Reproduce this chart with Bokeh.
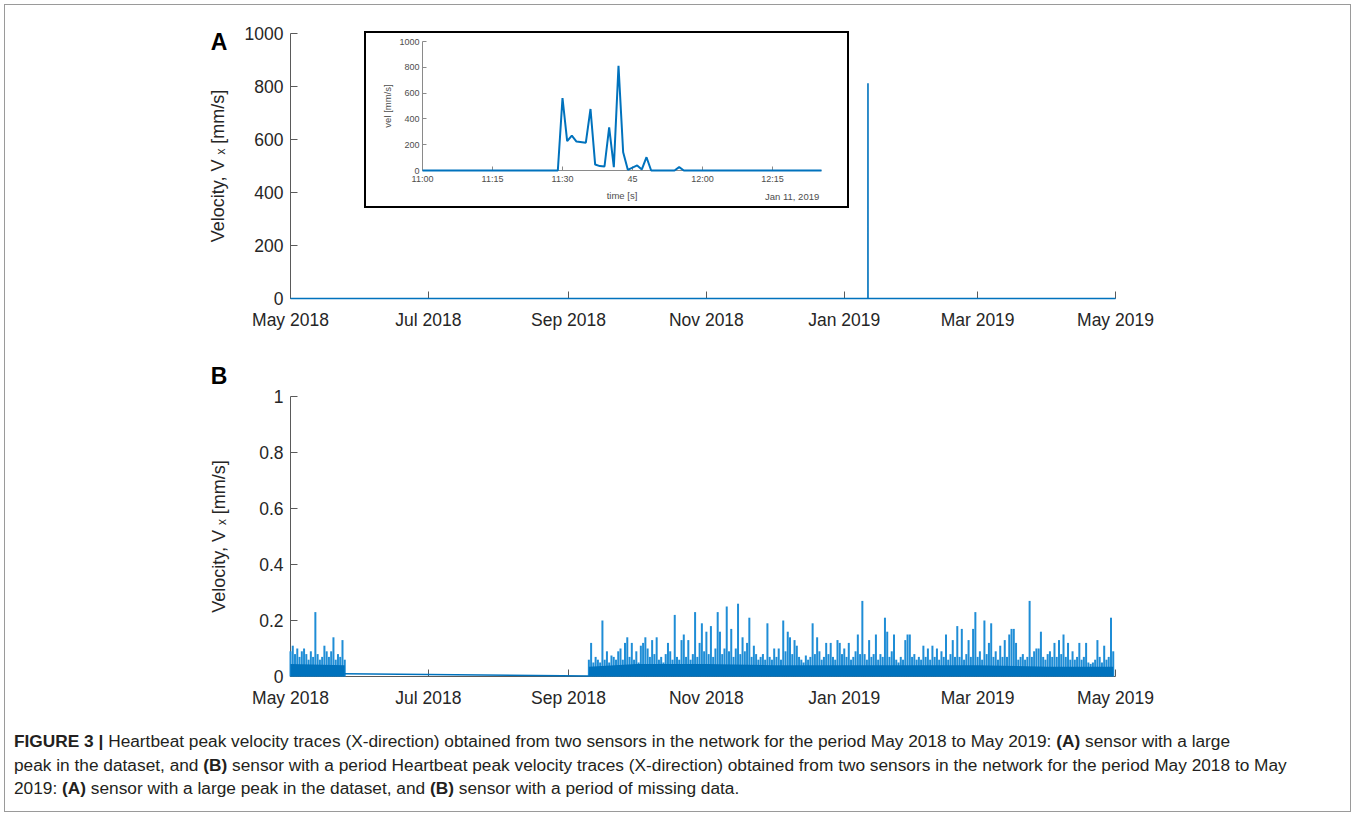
import pandas as pd
from bokeh.plotting import figure
from bokeh.models import FixedTicker, NumeralTickFormatter, Div, Range1d, GridBox
from bokeh.embed import file_html
from bokeh.resources import INLINE

# ---------------- data ----------------
month_ticks = ["2018-05-01", "2018-07-01", "2018-09-01", "2018-11-01",
               "2019-01-01", "2019-03-01", "2019-05-01"]
month_labels = ["May 2018", "Jul 2018", "Sep 2018", "Nov 2018",
                "Jan 2019", "Mar 2019", "May 2019"]

# Panel A: sensor with a large peak (event on Jan 11, 2019)
event_times = ["2019-01-11 11:00", "2019-01-11 11:29", "2019-01-11 11:30", "2019-01-11 11:31",
               "2019-01-11 11:32", "2019-01-11 11:33", "2019-01-11 11:35", "2019-01-11 11:36",
               "2019-01-11 11:37", "2019-01-11 11:38", "2019-01-11 11:39", "2019-01-11 11:40",
               "2019-01-11 11:41", "2019-01-11 11:42", "2019-01-11 11:43", "2019-01-11 11:44",
               "2019-01-11 11:46", "2019-01-11 11:47", "2019-01-11 11:48", "2019-01-11 11:49",
               "2019-01-11 11:54", "2019-01-11 11:55", "2019-01-11 11:56", "2019-01-11 12:25:30"]
event_vel = [0, 0, 562, 227, 271, 224, 216, 477, 46, 34, 31, 335, 26, 812, 142, 5,
             39, 8, 103, 0, 0, 26, 0, 0]
a_times = ["2018-05-01 00:00"] + event_times + ["2019-05-01 00:00"]
a_vel = [0] + event_vel + [0]

inset_ticks = ["2019-01-11 11:00", "2019-01-11 11:15", "2019-01-11 11:30",
               "2019-01-11 11:45", "2019-01-11 12:00", "2019-01-11 12:15"]
inset_labels = ["11:00", "11:15", "11:30", "45", "12:00", "12:15"]
inset_date_label = "Jan 11, 2019"

# Panel B: sensor with a period of missing data (daily peak values)
b1_start = "2018-05-01"
b1_vel = [0.09, 0.11, 0.08, 0.10, 0.07, 0.09, 0.10, 0.08, 0.06, 0.09, 0.07, 0.23, 0.08,
          0.06, 0.07, 0.11, 0.09, 0.07, 0.09, 0.14, 0.06, 0.08, 0.07, 0.13, 0.06]
b2_start = "2018-09-10"
b2_vel = [0.06, 0.12, 0.05, 0.07, 0.06, 0.05, 0.20, 0.06, 0.09, 0.05, 0.075, 0.07, 0.06, 0.09,
          0.10, 0.06, 0.12, 0.14, 0.07, 0.12, 0.06, 0.09, 0.05, 0.11, 0.12, 0.14, 0.10, 0.07,
          0.13, 0.08, 0.14, 0.06, 0.07, 0.05, 0.08, 0.12, 0.09, 0.06, 0.22, 0.07, 0.06, 0.13,
          0.15, 0.07, 0.13, 0.06, 0.08, 0.23, 0.07, 0.12, 0.19, 0.09, 0.16, 0.08, 0.18, 0.07,
          0.10, 0.23, 0.16, 0.08, 0.10, 0.25, 0.09, 0.17, 0.07, 0.10, 0.26, 0.08, 0.14, 0.09,
          0.12, 0.21, 0.07, 0.11, 0.08, 0.06, 0.07, 0.08, 0.06, 0.19, 0.07, 0.06, 0.10, 0.07,
          0.10, 0.06, 0.20, 0.09, 0.16, 0.14, 0.08, 0.13, 0.11, 0.07, 0.06, 0.05, 0.075, 0.06,
          0.07, 0.19, 0.08, 0.14, 0.09, 0.06, 0.07, 0.12, 0.08, 0.12, 0.07, 0.06, 0.13, 0.12,
          0.08, 0.10, 0.07, 0.12, 0.06, 0.07, 0.09, 0.15, 0.08, 0.27, 0.08, 0.06, 0.13, 0.07,
          0.08, 0.15, 0.06, 0.08, 0.07, 0.21, 0.16, 0.07, 0.09, 0.15, 0.06, 0.05, 0.07, 0.06,
          0.13, 0.15, 0.15, 0.07, 0.08, 0.06, 0.07, 0.06, 0.11, 0.07, 0.10, 0.06, 0.11, 0.07,
          0.10, 0.06, 0.09, 0.07, 0.15, 0.06, 0.08, 0.13, 0.07, 0.18, 0.07, 0.17, 0.06, 0.08,
          0.13, 0.07, 0.17, 0.23, 0.07, 0.09, 0.06, 0.20, 0.08, 0.12, 0.19, 0.07, 0.09, 0.06,
          0.11, 0.07, 0.13, 0.07, 0.15, 0.17, 0.17, 0.12, 0.06, 0.07, 0.08, 0.06, 0.07, 0.27,
          0.07, 0.09, 0.10, 0.10, 0.16, 0.07, 0.06, 0.08, 0.09, 0.07, 0.12, 0.07, 0.13, 0.08,
          0.15, 0.07, 0.12, 0.06, 0.09, 0.06, 0.07, 0.12, 0.06, 0.07, 0.12, 0.05, 0.045, 0.05,
          0.06, 0.13, 0.07, 0.05, 0.11, 0.06, 0.07, 0.21, 0.09]
gap_times = ["2018-05-25", "2018-09-10"]
gap_vel = [0.010, 0.002]
band1_times = ["2018-05-01", "2018-05-25"]
band1_vel = [0.045, 0.04]
band2_times = ["2018-09-10", "2018-10-01", "2018-11-01", "2018-12-01", "2019-01-01",
               "2019-02-01", "2019-03-01", "2019-04-01", "2019-04-30"]
band2_vel = [0.035, 0.045, 0.045, 0.04, 0.04, 0.04, 0.04, 0.035, 0.035]

caption_html = (
    "<b>FIGURE 3 |</b> Heartbeat peak velocity traces (X-direction) obtained from two sensors in the "
    "network for the period May 2018 to May 2019: <b>(A)</b> sensor with a large<br>"
    "peak in the dataset, and <b>(B)</b> sensor with a period Heartbeat peak velocity traces "
    "(X-direction) obtained from two sensors in the network for the period May 2018 to May<br>"
    "2019: <b>(A)</b> sensor with a large peak in the dataset, and <b>(B)</b> sensor with a period "
    "of missing data."
)

# ---------------- helpers ----------------
BLUE = "#0072BD"
NEEDLE = "#1f8dd6"
AX = "#5a5a5a"
TXT = "#262626"
FONT = "Liberation Sans"


def ts(values):
    return pd.to_datetime(values, format="mixed")


def ms(s):
    return pd.Timestamp(s).value / 1e6


def style_axes(p, ylabel, standoff):
    p.xgrid.visible = False
    p.ygrid.visible = False
    p.outline_line_color = None
    p.background_fill_color = "white"
    p.border_fill_color = "white"
    xa = p.xaxis[0]
    xa.ticker = FixedTicker(ticks=[ms(t) for t in month_ticks])
    xa.major_label_overrides = {ms(t): l for t, l in zip(month_ticks, month_labels)}
    ya = p.yaxis[0]
    for ax in (xa, ya):
        ax.major_tick_in = 7
        ax.major_tick_out = 0
        ax.minor_tick_line_color = None
        ax.axis_line_color = AX
        ax.major_tick_line_color = AX
        ax.major_label_text_font = FONT
        ax.major_label_text_font_size = "17.5px"
        ax.major_label_text_color = TXT
    xa.major_label_standoff = 11
    ya.major_label_standoff = 7
    ya.axis_label = ylabel
    ya.axis_label_text_font = FONT
    ya.axis_label_text_font_size = "18px"
    ya.axis_label_text_font_style = "normal"
    ya.axis_label_text_color = TXT
    ya.axis_label_standoff = standoff


def letter(text):
    return Div(text=text, width=30, height=30,
               styles={"font-family": FONT, "font-size": "23px", "font-weight": "bold",
                       "color": "#000000", "text-align": "center", "line-height": "30px"})


xr_start, xr_end = pd.Timestamp("2018-05-01"), pd.Timestamp("2019-05-01")

# ---------------- panel A ----------------
pA = figure(width=1345, height=340, x_axis_type="datetime", output_backend="svg",
            toolbar_location=None, x_range=Range1d(xr_start, xr_end), y_range=Range1d(0, 1000),
            min_border_left=285, min_border_right=235, min_border_top=28, min_border_bottom=47)
ra = pA.line(ts(a_times), a_vel, line_color=BLUE, line_width=1.6)
ra.level = "overlay"
style_axes(pA, "Velocity, V ₓ [mm/s]", 14)
pA.yaxis[0].ticker = FixedTicker(ticks=[0, 200, 400, 600, 800, 1000])

# ---------------- panel B ----------------
pB = figure(width=1345, height=380, x_axis_type="datetime", output_backend="svg",
            toolbar_location=None, x_range=Range1d(xr_start, xr_end), y_range=Range1d(0, 1),
            min_border_left=285, min_border_right=235, min_border_top=51, min_border_bottom=49)
b1_t = pd.date_range(b1_start, periods=len(b1_vel), freq="D")
b2_t = pd.date_range(b2_start, periods=len(b2_vel), freq="D")
rbs = [
    pB.segment(x0=b1_t, y0=0, x1=b1_t, y1=b1_vel, line_color=NEEDLE, line_width=2.0),
    pB.segment(x0=b2_t, y0=0, x1=b2_t, y1=b2_vel, line_color=NEEDLE, line_width=2.0),
    pB.varea(x=ts(band1_times), y1=0, y2=band1_vel, fill_color=BLUE),
    pB.varea(x=ts(band2_times), y1=0, y2=band2_vel, fill_color=BLUE),
    pB.line(ts(gap_times), gap_vel, line_color=BLUE, line_width=1.4),
]
for r in rbs:
    r.level = "overlay"
style_axes(pB, "Velocity, V ₓ [mm/s]", 27)
pB.yaxis[0].ticker = FixedTicker(ticks=[0, 0.2, 0.4, 0.6, 0.8, 1])
pB.yaxis[0].formatter = NumeralTickFormatter(format="0.[0]")

# ---------------- inset ----------------
ins = figure(width=485, height=177, x_axis_type="datetime", output_backend="svg",
             toolbar_location=None,
             x_range=Range1d(pd.Timestamp(event_times[0]), pd.Timestamp(event_times[-1])),
             y_range=Range1d(0, 1000),
             min_border_left=63, min_border_right=23, min_border_top=15, min_border_bottom=33)
ri = ins.line(ts(event_times), event_vel, line_color=BLUE, line_width=2.0)
ri.level = "overlay"
ins.xgrid.visible = False
ins.ygrid.visible = False
ins.outline_line_color = None
ixa, iya = ins.xaxis[0], ins.yaxis[0]
ixa.ticker = FixedTicker(ticks=[ms(t) for t in inset_ticks])
ixa.major_label_overrides = {ms(t): l for t, l in zip(inset_ticks, inset_labels)}
iya.ticker = FixedTicker(ticks=[0, 200, 400, 600, 800, 1000])
for ax in (ixa, iya):
    ax.major_tick_in = 4
    ax.major_tick_out = 0
    ax.minor_tick_line_color = None
    ax.axis_line_color = "#8a8a8a"
    ax.major_tick_line_color = "#8a8a8a"
    ax.major_label_text_font = FONT
    ax.major_label_text_font_size = "9px"
    ax.major_label_text_color = "#4d4d4d"
    ax.major_label_standoff = 3
    ax.axis_label_text_font = FONT
    ax.axis_label_text_font_size = "9.5px"
    ax.axis_label_text_font_style = "normal"
    ax.axis_label_text_color = "#4d4d4d"
    ax.axis_label_standoff = 3
ixa.axis_label = "time [s]"
iya.axis_label = "vel [mm/s]"

ins_box = Div(text="", width=485, height=177,
              styles={"border": "2px solid #000000", "box-sizing": "border-box",
                      "pointer-events": "none"})
ins_date = Div(text=inset_date_label, width=485, height=177,
               styles={"box-sizing": "border-box", "padding": "160px 0 0 401px",
                       "font-family": FONT, "font-size": "9.5px", "line-height": "12px",
                       "color": "#4d4d4d", "white-space": "nowrap", "pointer-events": "none"})

# ---------------- caption ----------------
cap = Div(text=caption_html, width=1345, height=86,
          styles={"font-family": "'Liberation Sans', Arial, sans-serif",
                  "font-size": "17.3px", "line-height": "23.5px", "color": "#231f20",
                  "white-space": "nowrap", "padding": "0px 0 0 4px"})

# ---------------- layout (overlapping grid cells) ----------------
row_px = [17, 4, 26, 151, 142, 11, 30, 339, 86]
col_px = [194, 30, 130, 485, 506]
grid = GridBox(
    children=[
        (pA, 0, 0, 5, 5),
        (ins, 2, 3, 2, 1),
        (ins_date, 2, 3, 2, 1),
        (ins_box, 2, 3, 2, 1),
        (letter("A"), 1, 1, 2, 1),
        (pB, 5, 0, 3, 5),
        (letter("B"), 6, 1, 1, 1),
        (cap, 8, 0, 1, 5),
    ],
    rows=[f"{r}px" for r in row_px],
    cols=[f"{c}px" for c in col_px],
    styles={"border": "1px solid #9a9a9a", "margin": "4px", "background": "white"},
)

open("out.html", "w").write(file_html(grid, INLINE))
